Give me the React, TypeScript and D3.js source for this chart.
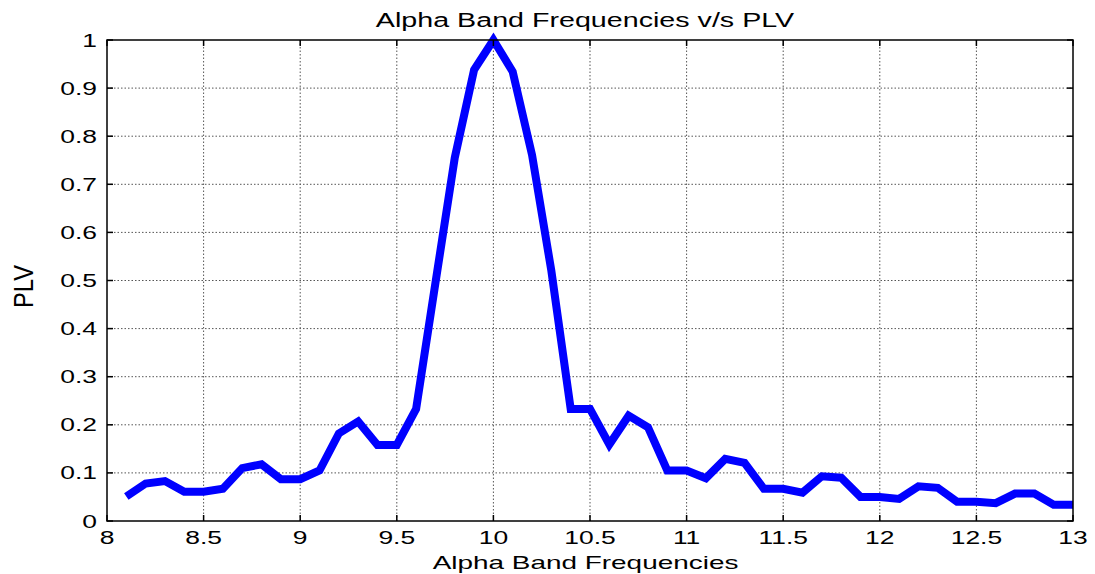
import React from "react";
import * as d3 from "d3";

// Frequency bins (Hz) and the phase-locking value measured at each bin
const frequencies: number[] = [
  8.1, 8.2, 8.3, 8.4, 8.5, 8.6, 8.7, 8.8, 8.9, 9.0,
  9.1, 9.2, 9.3, 9.4, 9.5, 9.6, 9.7, 9.8, 9.9, 10.0,
  10.1, 10.2, 10.3, 10.4, 10.5, 10.6, 10.7, 10.8, 10.9, 11.0,
  11.1, 11.2, 11.3, 11.4, 11.5, 11.6, 11.7, 11.8, 11.9, 12.0,
  12.1, 12.2, 12.3, 12.4, 12.5, 12.6, 12.7, 12.8, 12.9, 13.0,
];
const plv: number[] = [
  0.051, 0.078, 0.083, 0.061, 0.061, 0.067, 0.110, 0.118, 0.087, 0.087,
  0.105, 0.182, 0.207, 0.158, 0.158, 0.233, 0.495, 0.755, 0.938, 1.0,
  0.934, 0.761, 0.520, 0.233, 0.233, 0.159, 0.219, 0.195, 0.105, 0.105,
  0.089, 0.129, 0.121, 0.067, 0.067, 0.059, 0.093, 0.090, 0.050, 0.050,
  0.046, 0.072, 0.069, 0.040, 0.040, 0.037, 0.057, 0.057, 0.034, 0.034,
];

const xTicks: number[] = [8, 8.5, 9, 9.5, 10, 10.5, 11, 11.5, 12, 12.5, 13];
const yTicks: number[] = [0, 0.1, 0.2, 0.3, 0.4, 0.5, 0.6, 0.7, 0.8, 0.9, 1];

const W = 1095;
const H = 574;
const plot = { left: 107, right: 1073, top: 40, bottom: 521 };
const font = "'Liberation Sans', Arial, sans-serif";
const SX = 1.47; // horizontal glyph stretch

export default function App() {
  const x = d3.scaleLinear().domain([8, 13]).range([plot.left, plot.right]);
  const y = d3.scaleLinear().domain([0, 1]).range([plot.bottom, plot.top]);

  const line = d3
    .line<number>()
    .x((_, i) => x(frequencies[i]))
    .y((d) => y(d));

  const fmt = (v: number) => d3.format("~g")(v);
  const tickLen = 6;

  return (
    <svg
      width={W}
      height={H}
      style={{ position: "absolute", left: 0, top: 0, background: "#fff" }}
      fontFamily={font}
    >
      <rect x={0} y={0} width={W} height={H} fill="#fff" />

      {/* grid */}
      <g stroke="#555" strokeWidth={1} strokeDasharray="1.5,2">
        {xTicks.slice(1, -1).map((t) => (
          <line key={"gx" + t} x1={x(t)} x2={x(t)} y1={plot.top} y2={plot.bottom} />
        ))}
        {yTicks.slice(1, -1).map((t) => (
          <line key={"gy" + t} x1={plot.left} x2={plot.right} y1={y(t)} y2={y(t)} />
        ))}
      </g>

      {/* data line */}
      <path
        d={line(plv) || ""}
        fill="none"
        stroke="#0000ff"
        strokeWidth={8}
        strokeLinejoin="miter"
        strokeMiterlimit={3}
      />

      {/* axes box */}
      <rect
        x={plot.left}
        y={plot.top}
        width={plot.right - plot.left}
        height={plot.bottom - plot.top}
        fill="none"
        stroke="#000"
        strokeWidth={1.5}
      />

      {/* inward ticks on all sides */}
      <g stroke="#000" strokeWidth={1.5}>
        {xTicks.map((t) => (
          <g key={"tx" + t}>
            <line x1={x(t)} x2={x(t)} y1={plot.bottom} y2={plot.bottom - tickLen} />
            <line x1={x(t)} x2={x(t)} y1={plot.top} y2={plot.top + tickLen} />
          </g>
        ))}
        {yTicks.map((t) => (
          <g key={"ty" + t}>
            <line x1={plot.left} x2={plot.left + tickLen} y1={y(t)} y2={y(t)} />
            <line x1={plot.right} x2={plot.right - tickLen} y1={y(t)} y2={y(t)} />
          </g>
        ))}
      </g>

      {/* x tick labels */}
      <g fontSize={18} fill="#000">
        {xTicks.map((t) => (
          <g key={"lx" + t} transform={`translate(${x(t)},${plot.bottom + 23}) scale(${SX},1)`}>
            <text textAnchor="middle">{fmt(t)}</text>
          </g>
        ))}
      </g>

      {/* y tick labels */}
      <g fontSize={18} fill="#000">
        {yTicks.map((t) => (
          <g key={"ly" + t} transform={`translate(${plot.left - 10},${y(t) + 6.5}) scale(${SX},1)`}>
            <text textAnchor="end">{fmt(t)}</text>
          </g>
        ))}
      </g>

      {/* title */}
      <g transform={`translate(585,27) scale(${SX},1)`}>
        <text textAnchor="middle" fontSize={19.5} fill="#000">
          Alpha Band Frequencies v/s PLV
        </text>
      </g>

      {/* x axis label */}
      <g transform={`translate(585.5,569) scale(${SX},1)`}>
        <text textAnchor="middle" fontSize={19} fill="#000">
          Alpha Band Frequencies
        </text>
      </g>

      {/* y axis label */}
      <g transform={`translate(33,286.5) scale(1.35,1) rotate(-90)`}>
        <text textAnchor="middle" fontSize={21} fill="#000" textLength={43} lengthAdjust="spacingAndGlyphs">
          PLV
        </text>
      </g>
    </svg>
  );
}
